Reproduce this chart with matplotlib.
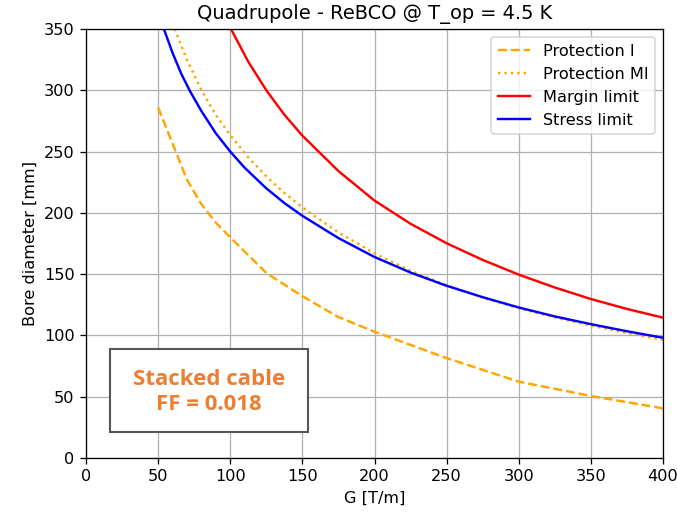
import numpy as np
import matplotlib
matplotlib.use("Agg")
import matplotlib.pyplot as plt
from matplotlib.patches import Rectangle

# values
g_prot_i = [50, 70, 80, 90, 100, 125, 150, 175, 200, 250, 300, 350, 400]
d_prot_i = [286, 227, 207, 192, 180, 151, 132, 115, 103, 81.5, 62.3, 50.6, 40.5]

g_prot_mi = [61.5, 70, 80, 90, 100, 112.5, 125, 137.5, 150, 175, 200, 225, 250,
             275, 300, 325, 350, 375, 400]
d_prot_mi = [350, 324.7, 300.3, 279.8, 263.5, 245.2, 229.7, 216.3, 204.4, 184.0,
             167.0, 152.7, 141.0, 130.8, 122.2, 114.7, 108.0, 101.9, 96.3]

g_margin = [100.5, 112.5, 125, 137.5, 150, 175, 200, 225, 250, 275, 300, 325,
            350, 375, 400]
d_margin = [350, 323.3, 300, 280.1, 263.0, 234.1, 210.0, 191.1, 175.2, 161.6,
            149.6, 139.1, 129.7, 121.6, 114.5]

g_stress = [54, 60, 66, 72, 80, 90, 100, 110, 125, 137.5, 150, 175, 200, 225,
            250, 275, 300, 325, 350, 375, 400]
d_stress = [350, 330.5, 313.6, 299.5, 283.0, 264.9, 250.0, 236.8, 220.0, 208.0,
            197.6, 179.4, 164.0, 151.3, 140.5, 131.2, 122.8, 115.5, 109.2, 103.4, 98.1]

# the reference is a default matplotlib figure shown ~1.16x larger
DPI = 116
fig = plt.figure(figsize=(677 / DPI, 512 / DPI), dpi=DPI)
ax = fig.add_axes([86 / 677, 54 / 512, 577 / 677, 429 / 512])

ax.plot(g_prot_i, d_prot_i, linestyle="--", color="orange", label="Protection I")
ax.plot(g_prot_mi, d_prot_mi, linestyle=":", color="orange", label="Protection MI")
ax.plot(g_margin, d_margin, color="red", label="Margin limit")
ax.plot(g_stress, d_stress, color="blue", label="Stress limit")

ax.set_xlim(0, 400)
ax.set_ylim(0, 350)
ax.grid(True)
ax.set_xlabel("G [T/m]")
ax.set_ylabel("Bore diameter [mm]")
ax.set_title("Quadrupole - ReBCO @ T_op = 4.5 K")
ax.legend(loc="upper right")

# annotation box drawn on top of the axes
fig.patches.append(Rectangle((110 / 677, (512 - 432) / 512), 198 / 677, 83 / 512,
                             transform=fig.transFigure, facecolor="white",
                             edgecolor="#555555", linewidth=1.3, zorder=5))
fig.text(209 / 677, (512 - 392) / 512, "Stacked cable\nFF = 0.018",
         ha="center", va="center", color="#ED7D31", fontsize=13.8,
         fontweight="bold", family="Open Sans", linespacing=1.2, zorder=6)

fig.savefig("out.png", dpi=DPI)
